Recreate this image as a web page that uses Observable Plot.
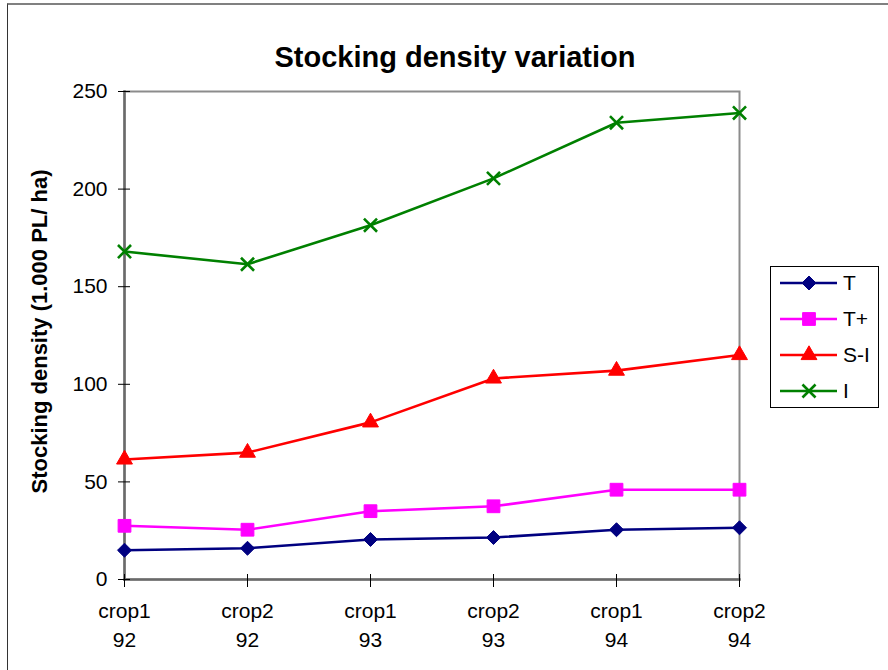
<!DOCTYPE html>
<html><head><meta charset="utf-8">
<script src="https://cdn.jsdelivr.net/npm/d3@7"></script>
<script src="https://cdn.jsdelivr.net/npm/@observablehq/plot@0.6"></script>
<style>
body{margin:0;background:#fff;font-family:Arial,"Liberation Sans",sans-serif;}
#wrap{position:relative;width:888px;height:670px;overflow:hidden;background:#fff;}
#border{position:absolute;left:7px;top:3px;width:900px;height:700px;border-left:1px solid #333;border-top:2px solid #808080;}
#chart{position:absolute;left:0;top:0;}
#legend{position:absolute;left:770px;top:266px;width:107px;height:140px;border:1px solid #000;background:#fff;}
</style></head><body>
<div id="wrap"><div id="border"></div><div id="chart"></div><div id="legend"></div></div>
<script>
// ---- data ----
const categories = ["crop1\n92", "crop2\n92", "crop1\n93", "crop2\n93", "crop1\n94", "crop2\n94"];
const seriesNames = ["T", "T+", "S-I", "I"];
const valuesT = [15, 16, 20.5, 21.5, 25.5, 26.5];
const valuesTplus = [27.5, 25.5, 35, 37.5, 46, 46];
const valuesSI = [61.5, 65, 80.5, 103, 107, 115];
const valuesI = [168, 161.5, 181.5, 205.5, 234, 239];
const yTicks = [0, 50, 100, 150, 200, 250];
const titleText = "Stocking density variation";
const yLabel = "Stocking density (1.000 PL/ ha)";

// ---- styles ----
const colors = {"T": "#000080", "T+": "#FF00FF", "S-I": "#FF0000", "I": "#008000"};
const symbols = {"T": "diamond2", "T+": "square", "S-I": "triangle", "I": "times"};
const radii = {"T": 6.3, "T+": 7.2, "S-I": 5.9, "I": 6.0};
const seriesValues = {"T": valuesT, "T+": valuesTplus, "S-I": valuesSI, "I": valuesI};

const rows = seriesNames.flatMap(s => categories.map((c, i) => ({series: s, cat: c, value: seriesValues[s][i]})));

const font = "Arial, 'Liberation Sans', sans-serif";

const dotMarks = seriesNames.map(s => Plot.dot(rows.filter(d => d.series === s), {
  x: "cat", y: "value", symbol: () => symbols[s], r: radii[s],
  fill: s === "I" ? "none" : colors[s],
  stroke: colors[s], strokeWidth: s === "I" ? 2.6 : 1
}));

const chart = Plot.plot({
  width: 888, height: 670,
  marginLeft: 124, marginRight: 149, marginTop: 91, marginBottom: 91,
  style: {fontFamily: font, fontSize: "21px", color: "#000", background: "transparent"},
  x: {type: "point", domain: categories, padding: 0, label: null},
  y: {domain: [0, 250], label: null},
  symbol: {type: "identity"},
  marks: [
    Plot.frame({stroke: "#8c8c8c", strokeWidth: 2}),
    Plot.frame({anchor: "left", stroke: "#6a6a6a", strokeWidth: 2.5}),
    Plot.frame({anchor: "bottom", stroke: "#6a6a6a", strokeWidth: 2.5}),
    Plot.axisY({ticks: yTicks, tickSize: 12, dx: 6, tickPadding: 11, stroke: "#000", strokeWidth: 1, fontSize: 21, label: null}),
    Plot.axisX({tickSize: 13, dy: -5, tickPadding: 10, lineHeight: 1.38, stroke: "#000", strokeWidth: 1, fontSize: 21, label: null}),
    Plot.line(rows, {x: "cat", y: "value", z: "series", stroke: d => colors[d.series], strokeWidth: 2.6}),
    ...dotMarks,
    Plot.text([titleText], {frameAnchor: "top", dx: 23, dy: -45, fontSize: 29, fontWeight: "bold", fill: "#000"}),
    Plot.text([yLabel], {frameAnchor: "left", textAnchor: "middle", rotate: -90, dx: -85, dy: -4, fontSize: 22, fontWeight: "bold", fill: "#000"})
  ]
});
document.getElementById("chart").appendChild(chart);

// ---- legend ----
const lg = d3.select("#legend").append("svg").attr("width", 107).attr("height", 140);
const symMap = {"diamond2": d3.symbolDiamond2, "square": d3.symbolSquare, "triangle": d3.symbolTriangle, "times": d3.symbolTimes};
seriesNames.forEach((s, i) => {
  const g = lg.append("g").attr("transform", `translate(0,${16 + i * 36})`);
  g.append("line").attr("x1", 9).attr("x2", 66).attr("stroke", colors[s]).attr("stroke-width", 2.6);
  g.append("path").attr("transform", "translate(38,0)")
    .attr("d", d3.symbol(symMap[symbols[s]], Math.PI * radii[s] * radii[s])())
    .attr("fill", s === "I" ? "none" : colors[s]).attr("stroke", colors[s]).attr("stroke-width", s === "I" ? 2.6 : 1);
  g.append("text").attr("x", 72).attr("y", 0).attr("dy", "0.35em")
    .attr("font-family", font).attr("font-size", 21).text(s);
});
</script>
</body></html>
